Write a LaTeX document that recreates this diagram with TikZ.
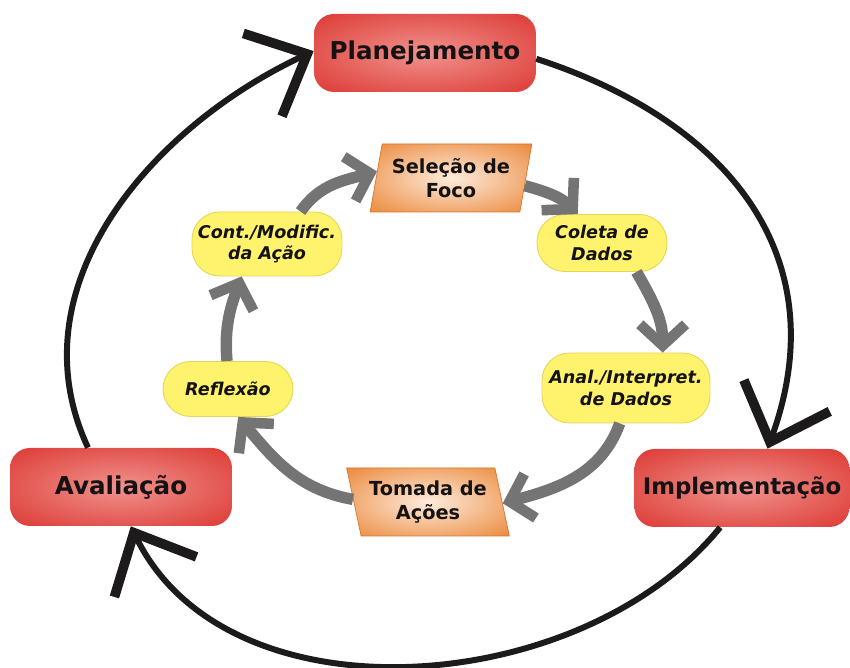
\documentclass[tikz,border=0pt]{standalone}
\usepackage{fontspec}
\setmainfont{DejaVu Sans}
\usetikzlibrary{shapes.geometric, arrows.meta, positioning}
\definecolor{redout}{HTML}{D8221C}
\definecolor{redin}{HTML}{F0928E}
\definecolor{orangeout}{HTML}{E8781F}
\definecolor{orangein}{HTML}{FDEBDC}
\definecolor{orangeline}{HTML}{D9742A}
\definecolor{yellowfill}{HTML}{FFF36D}
\definecolor{yellowline}{HTML}{E3D655}
\definecolor{outerline}{HTML}{1C1A1A}
\definecolor{grayline}{HTML}{747474}
\definecolor{textdark}{HTML}{141212}
\pgfdeclareradialshading{redglow}{\pgfpoint{0bp}{0bp}}{color(0bp)=(redin); color(45bp)=(redout); color(72bp)=(redout)}
\pgfdeclareradialshading{orangeglow}{\pgfpoint{0bp}{0bp}}{color(0bp)=(orangein); color(42bp)=(orangeout); color(72bp)=(orangeout)}

\begin{document}
\begin{tikzpicture}[x=0.02cm, y=0.02cm,
  etapa/.style={rounded corners=0.4cm, shading=redglow, minimum width=4.44cm, minimum height=1.56cm,
    font=\fontsize{14}{16}\selectfont\bfseries, text=textdark},
  acao/.style={trapezium, trapezium stretches=true, shading=orangeglow, draw=orangeline, line width=0.4pt,
    minimum width=3.26cm, minimum height=1.36cm, align=center, inner sep=1pt,
    font=\fontsize{11}{13.5}\selectfont\bfseries, text=textdark},
  passo/.style={rounded corners=0.55cm, fill=yellowfill, draw=yellowline, line width=0.5pt, align=center,
    font=\fontsize{10}{12}\selectfont\bfseries\itshape, text=textdark},
  ciclo/.style={line width=3.4pt, draw=outerline, -{Straight Barb[length=28pt,width=52pt,line width=5.5pt]}},
  fluxo/.style={line width=6.5pt, draw=grayline, -{Straight Barb[length=12pt,width=26pt,line width=6pt]}}]
\useasboundingbox (0,0) rectangle (850,668);

% outer stages
\node[etapa] (plan) at (425,615) {Planejamento};
\node[etapa] (aval) at (121,181) {Avaliação};
\node[etapa, minimum width=4.3cm, font=\fontsize{13}{16}\selectfont\bfseries] (impl) at (742,180) {Implementação};

% inner steps
\node[acao, trapezium left angle=76, trapezium right angle=104] (sel) at (451,490) {Seleção de\\Foco};
\node[acao, trapezium left angle=106, trapezium right angle=74] (tom) at (428,166) {Tomada de\\Ações};
\node[passo, minimum width=2.6cm, minimum height=1.14cm] (col) at (602,425) {Coleta de\\Dados};
\node[passo, minimum width=3.36cm, minimum height=1.4cm] (ana) at (626,280) {Anal./Interpret.\\de Dados};
\node[passo, minimum width=2.6cm, minimum height=1.1cm] (ref) at (228,279) {Reflexão};
\node[passo, minimum width=3.0cm, minimum height=1.28cm] (cont) at (267,424) {Cont./Modific.\\da Ação};

% outer cycle
\draw[ciclo] (plan.-3) to[out=-18, in=70, looseness=1.15] (impl.57);
\draw[ciclo] (impl.-119) to[out=-129, in=-64, looseness=0.96] (aval.-76);
\draw[ciclo] (aval.130) to[out=115, in=205, looseness=1.0] (plan.179);

% inner cycle
\draw[fluxo] (cont.44) to[out=55, in=195] (sel.175);
\draw[fluxo] (sel.-6) to[out=-15, in=135] (col.130);
\draw[fluxo] (col.-40) to[out=-60, in=90] (ana.44);
\draw[fluxo] (ana.-100) to[out=-110, in=15] (tom.-1);
\draw[fluxo] (tom.178) to[out=170, in=-50] (ref.-70);
\draw[fluxo] (ref.92) to[out=95, in=-110] (cont.-128);
\end{tikzpicture}
\end{document}
